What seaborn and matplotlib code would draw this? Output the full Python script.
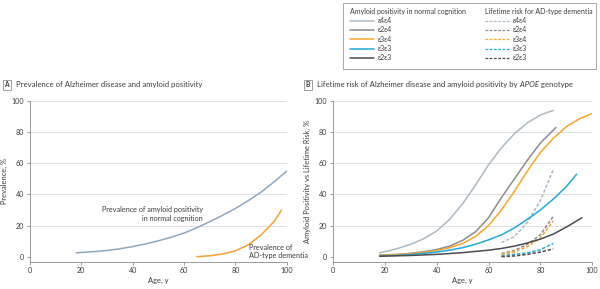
import matplotlib
matplotlib.use("Agg")
import matplotlib.pyplot as plt
from matplotlib.lines import Line2D
from matplotlib.patches import Rectangle
import pandas as pd
import seaborn as sns

# Panel A: prevalence
age_amyloid = [18, 25, 30, 35, 40, 45, 50, 55, 60, 65, 70, 75, 80, 85, 90, 95, 100]
prev_amyloid = [2.5, 3.3, 4, 5.1, 6.5, 8.2, 10.2, 12.5, 15.2, 18.6, 22.5, 26.6,
                31, 36, 41.5, 48, 55]
age_dementia = [65, 70, 75, 80, 85, 90, 95, 98]
prev_dementia = [0, 0.6, 1.7, 3.8, 7.6, 14, 22.5, 30]

# Panel B: amyloid positivity (solid) by genotype
genotypes = ["ε4ε4", "ε2ε4", "ε3ε4", "ε3ε3", "ε2ε3"]
age_e4e4 = [18, 22, 25, 30, 35, 40, 45, 50, 55, 60, 65, 70, 75, 80, 85]
amy_e4e4 = [2.5, 4, 5.3, 8, 11.5, 16.5, 24, 34, 46, 59, 70, 79, 86, 91, 94]
age_e2e4 = [18, 25, 30, 35, 40, 45, 50, 55, 60, 65, 70, 75, 80, 86]
amy_e2e4 = [1, 1.5, 2.2, 3.2, 4.6, 6.8, 10.5, 16, 25, 38, 50, 62, 73, 83]
age_e3e4 = [18, 25, 30, 35, 40, 45, 50, 55, 60, 65, 70, 75, 80, 85, 90, 95, 100]
amy_e3e4 = [1, 1.4, 2, 2.8, 4, 5.8, 8.5, 13, 20, 30, 42, 55, 67, 76, 83.5, 88.5, 92]
age_e3e3 = [18, 25, 30, 35, 40, 45, 50, 55, 60, 65, 70, 75, 80, 85, 90, 94]
amy_e3e3 = [0.5, 0.9, 1.4, 2.1, 3, 4.2, 5.8, 8, 10.8, 14, 18.5, 24, 30, 37, 45, 53]
age_e2e3 = [18, 30, 40, 50, 60, 65, 70, 75, 80, 85, 90, 96]
amy_e2e3 = [0.3, 0.8, 1.5, 2.6, 4.2, 5.3, 6.8, 8.8, 11.3, 14.5, 19, 25]

# Panel B: lifetime risk for AD-type dementia (dashed)
age_risk = [65, 70, 75, 80, 85]
risk_e4e4 = [9, 13, 22, 36, 56]
risk_e2e4 = [2, 4, 8, 14, 26]
risk_e3e4 = [1.5, 3, 6.5, 12, 23]
risk_e3e3 = [0.5, 1.5, 2.5, 4.5, 8.5]
risk_e2e3 = [0, 0.5, 1.5, 3, 5]

colors = {"ε4ε4": "#a9b9c6", "ε2ε4": "#8c8c8c", "ε3ε4": "#f5a52c",
          "ε3ε3": "#23a9d9", "ε2ε3": "#4d4d4d"}
text_col = "#3c3c3c"
axis_col = "#8a8a8a"

amy = {"ε4ε4": (age_e4e4, amy_e4e4), "ε2ε4": (age_e2e4, amy_e2e4),
       "ε3ε4": (age_e3e4, amy_e3e4), "ε3ε3": (age_e3e3, amy_e3e3),
       "ε2ε3": (age_e2e3, amy_e2e3)}
risk = {"ε4ε4": risk_e4e4, "ε2ε4": risk_e2e4, "ε3ε4": risk_e3e4,
        "ε3ε3": risk_e3e3, "ε2ε3": risk_e2e3}

rows = []
for g in genotypes:
    for a, v in zip(*amy[g]):
        rows.append((g, "amyloid", a, v))
    for a, v in zip(age_risk, risk[g]):
        rows.append((g, "risk", a, v))
df_b = pd.DataFrame(rows, columns=["genotype", "kind", "age", "value"])

sns.set_style("white")
plt.rcParams["font.family"] = ["Lato", "DejaVu Sans"]

fig = plt.figure(figsize=(6, 2.89), dpi=100)
ax_a = fig.add_axes([0.05, 0.0945, 0.428, 0.556])
ax_b = fig.add_axes([0.555, 0.0945, 0.432, 0.556])

# Panel A
sns.lineplot(x=age_amyloid, y=prev_amyloid, ax=ax_a, color="#8fa7bd", lw=1.1)
sns.lineplot(x=age_dementia, y=prev_dementia, ax=ax_a, color="#f5a030", lw=1.1)
ax_a.text(67.3, 27.3, "Prevalence of amyloid positivity\nin normal cognition",
          ha="right", va="center", ma="right", fontsize=5.2, color=text_col,
          linespacing=1.3)
ax_a.text(85.2, 3.4, "Prevalence of\nAD-type dementia", ha="left", va="center",
          ma="left", fontsize=5.2, color=text_col, linespacing=1.3, clip_on=False)
ax_a.set_ylabel("Prevalence, %", fontsize=5.4, color=text_col, labelpad=2.5)

# Panel B
sns.lineplot(data=df_b, x="age", y="value", hue="genotype", style="kind",
             hue_order=genotypes, palette=colors,
             dashes={"amyloid": "", "risk": (2.2, 1.2)},
             ax=ax_b, lw=1.1, legend=False)
ax_b.set_ylabel("Amyloid Positivity vs Lifetime Risk, %", fontsize=5.4,
                color=text_col, labelpad=2.5)

for ax in (ax_a, ax_b):
    ax.set_xlim(0, 100)
    ax.set_ylim(-3.2, 100)
    ax.set_xticks([0, 20, 40, 60, 80, 100])
    ax.set_yticks([0, 20, 40, 60, 80, 100])
    ax.set_xlabel("Age, y", fontsize=5.4, color=text_col, labelpad=2)
    ax.tick_params(labelsize=5.1, colors=axis_col, labelcolor=text_col,
                   length=2.5, width=0.6, pad=1.5, left=True, bottom=True)
    ax.grid(axis="y", color="#dcdcdc", lw=0.6)
    ax.get_ygridlines()[0].set_visible(False)
    for side in ("top", "right"):
        ax.spines[side].set_visible(False)
    for side in ("left", "bottom"):
        ax.spines[side].set_color(axis_col)
        ax.spines[side].set_linewidth(0.6)

# Panel titles with boxed letters
tsize = 5.6
box = dict(boxstyle="square,pad=0.25", fc="white", ec="#777777", lw=0.5)
fig.text(0.011, 0.706, "A", fontsize=4.8, fontweight="bold", color=text_col,
         ha="center", va="center", bbox=box)
fig.text(0.027, 0.706, "Prevalence of Alzheimer disease and amyloid positivity",
         fontsize=tsize, color=text_col, va="center")
fig.text(0.513, 0.706, "B", fontsize=4.8, fontweight="bold", color=text_col,
         ha="center", va="center", bbox=box)
t1 = fig.text(0.529, 0.706,
              "Lifetime risk of Alzheimer disease and amyloid positivity by",
              fontsize=tsize, color=text_col, va="center")
t2 = fig.text(0, 0, " APOE", fontsize=tsize, color=text_col, style="italic",
              va="center")
fig.canvas.draw()
bb = t1.get_window_extent().transformed(fig.transFigure.inverted())
t2.set_position((bb.x1, 0.706))
fig.canvas.draw()
bb2 = t2.get_window_extent().transformed(fig.transFigure.inverted())
fig.text(bb2.x1, 0.706, " genotype", fontsize=tsize, color=text_col, va="center")

# Legend: two titled columns inside one box
solid = [Line2D([], [], color=colors[g], lw=1.1) for g in genotypes]
dashed = [Line2D([], [], color=colors[g], lw=0.9, ls=(0, (2.2, 1.2)))
          for g in genotypes]
common = dict(frameon=False, fontsize=5, title_fontsize=5, handlelength=3.4,
              handletextpad=0.6, labelspacing=0.33, borderpad=0,
              alignment="left", labelcolor=text_col, loc="upper left")
leg1 = fig.legend(solid, genotypes, title="Amyloid positivity in normal cognition",
                  bbox_to_anchor=(0.578, 0.985), **common)
leg2 = fig.legend(dashed, genotypes, title="Lifetime risk for AD-type dementia",
                  bbox_to_anchor=(0.803, 0.985), **common)
for leg in (leg1, leg2):
    leg.get_title().set_color(text_col)
fig.add_artist(Rectangle((0.572, 0.762), 0.422, 0.228, transform=fig.transFigure,
                         fill=False, ec="#9a9a9a", lw=0.6))

fig.savefig("out.png", dpi=100)
